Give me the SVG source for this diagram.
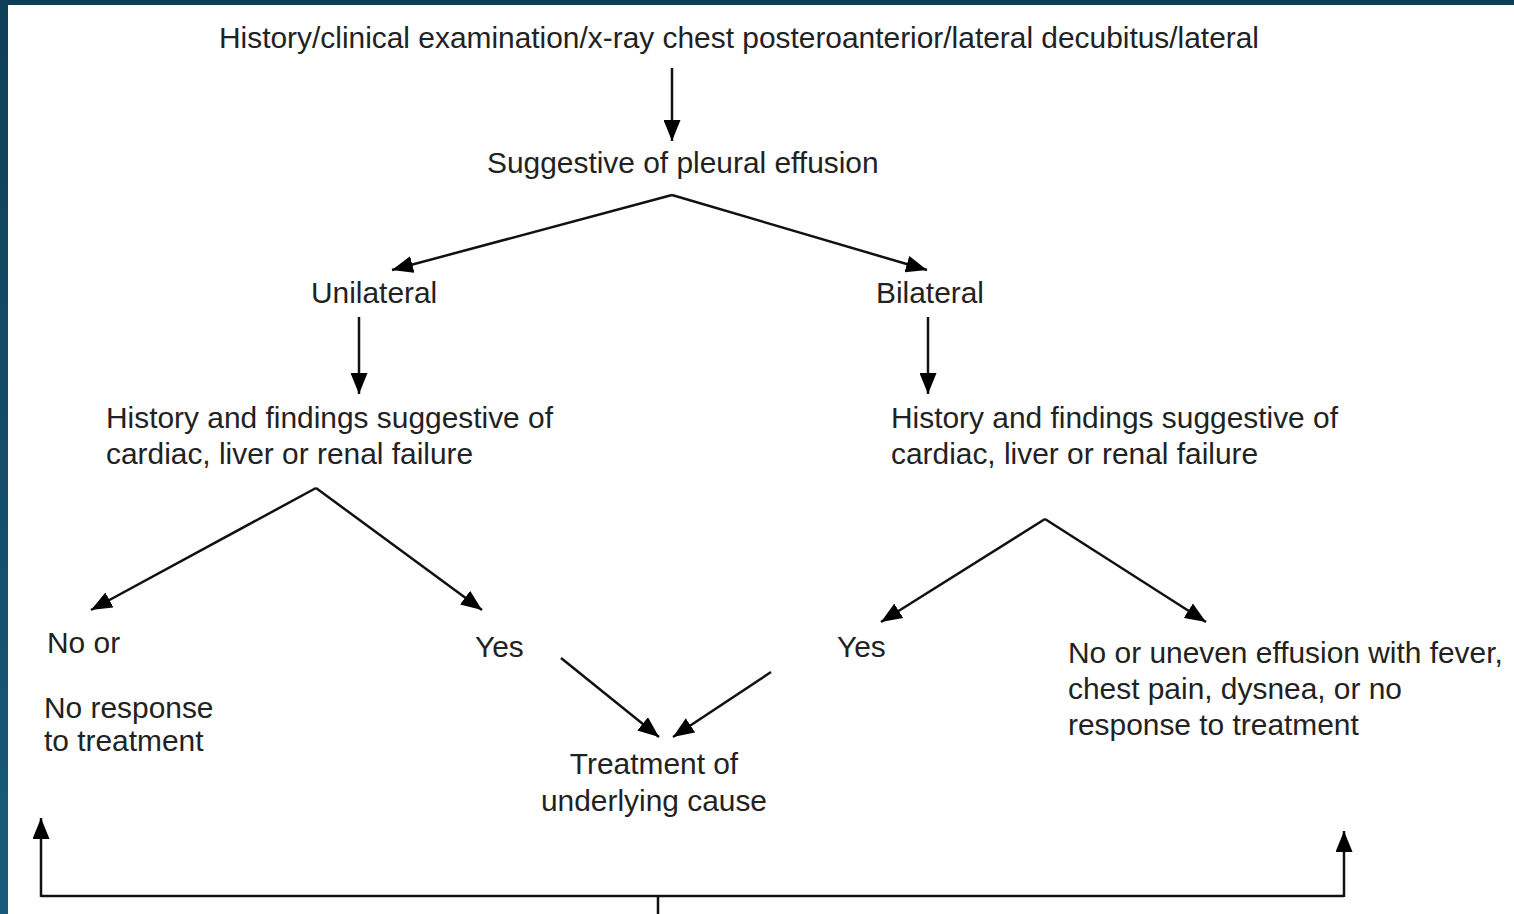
<svg xmlns="http://www.w3.org/2000/svg" width="1514" height="914" viewBox="0 0 1514 914">
<defs>
<linearGradient id="lg" x1="0" y1="0" x2="0" y2="1">
<stop offset="0" stop-color="#0f3f57"/>
<stop offset="1" stop-color="#175b7a"/>
</linearGradient>
<marker id="ah" viewBox="0 0 21 17" refX="21" refY="8.5" markerWidth="21" markerHeight="17" markerUnits="userSpaceOnUse" orient="auto">
<path d="M0,0 L21,8.5 L0,17 Z" fill="#000"/>
</marker>
<style>
text{font-family:"Liberation Sans",Arial,sans-serif;font-size:29.9px;fill:#222}
.c{fill:none;stroke:#111;stroke-width:2.5}
.a{marker-end:url(#ah)}
</style>
</defs>
<rect width="1514" height="914" fill="#fff"/>
<rect x="0" y="0" width="1514" height="5" fill="#0f3f57"/>
<rect x="0" y="0" width="8" height="914" fill="url(#lg)"/>
<g id="n-history"><text x="219" y="48">History/clinical examination/x-ray chest posteroanterior/lateral decubitus/lateral</text></g>
<g id="n-suggestive"><text x="487" y="173">Suggestive of pleural effusion</text></g>
<g id="n-unilateral"><text x="311" y="303">Unilateral</text></g>
<g id="n-bilateral"><text x="876" y="303">Bilateral</text></g>
<g id="n-hist-left"><text x="106" y="428">History and findings suggestive of</text><text x="106" y="464">cardiac, liver or renal failure</text></g>
<g id="n-hist-right"><text x="891" y="428">History and findings suggestive of</text><text x="891" y="464">cardiac, liver or renal failure</text></g>
<g id="n-noor"><text x="47" y="653">No or</text><text x="44" y="718">No response</text><text x="44" y="751">to treatment</text></g>
<g id="n-yes-left"><text x="475" y="657">Yes</text></g>
<g id="n-yes-right"><text x="837" y="657">Yes</text></g>
<g id="n-uneven"><text x="1068" y="663">No or uneven effusion with fever,</text><text x="1068" y="699">chest pain, dysnea, or no</text><text x="1068" y="735">response to treatment</text></g>
<g id="n-treatment"><text x="654" y="774" text-anchor="middle">Treatment of</text><text x="654" y="811" text-anchor="middle">underlying cause</text></g>
<g id="connectors">
<line class="c a" x1="672" y1="68" x2="672" y2="141"/>
<line class="c a" x1="672" y1="195" x2="392" y2="270"/>
<line class="c a" x1="672" y1="195" x2="927" y2="270"/>
<line class="c a" x1="359" y1="317" x2="359" y2="394"/>
<line class="c a" x1="928" y1="317" x2="928" y2="394"/>
<line class="c a" x1="316" y1="488" x2="91" y2="610"/>
<line class="c a" x1="316" y1="488" x2="482" y2="610"/>
<line class="c a" x1="1045" y1="519" x2="881" y2="622"/>
<line class="c a" x1="1045" y1="519" x2="1206" y2="622"/>
<line class="c a" x1="561" y1="658" x2="659" y2="737"/>
<line class="c a" x1="771" y1="672" x2="673" y2="737"/>
<polyline class="c" points="658,914 658,896"/>
<polyline class="c" points="41,896 1344,896"/>
<line class="c a" x1="41" y1="897" x2="41" y2="818"/>
<line class="c a" x1="1344" y1="897" x2="1344" y2="831"/>
</g>
</svg>
